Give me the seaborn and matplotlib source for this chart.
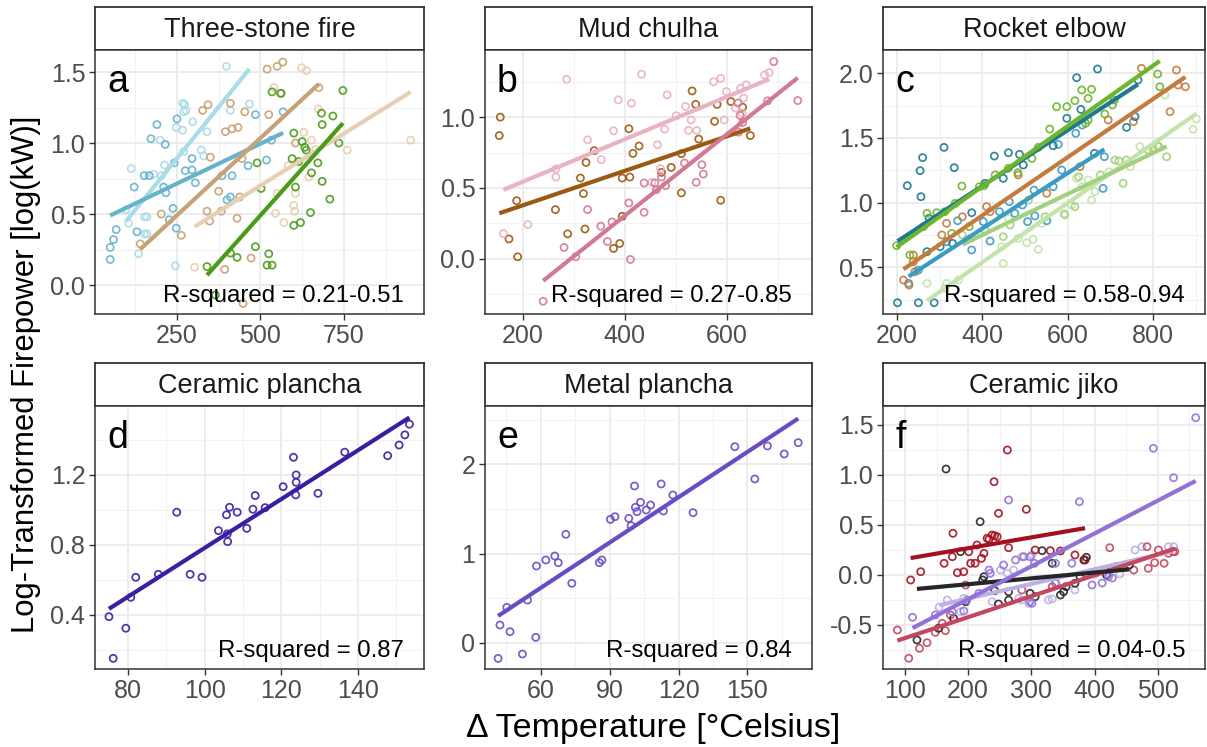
import matplotlib
matplotlib.use("Agg")
import matplotlib.pyplot as plt
from matplotlib.ticker import AutoMinorLocator
import seaborn as sns

sns.set_style("white")
plt.rcParams['font.family'] = ['Liberation Sans', 'DejaVu Sans']

# ---------------- data ----------------
# a: Three-stone fire
a_lightblue_x = [398, 267, 273, 270, 277, 248, 267, 297, 340, 410, 467, 200, 270, 323, 330, 113, 180, 203, 213, 97, 105, 153, 160, 153, 160, 135, 245]
a_lightblue_y = [1.54, 1.28, 1.27, 1.22, 1.23, 1.11, 1.09, 1.15, 1.08, 1.23, 1.275, 1.02, 0.94, 0.95, 0.91, 0.82, 0.78, 0.77, 0.845, 0.53, 0.435, 0.48, 0.48, 0.36, 0.36, 0.22, 0.135]
a_steel_x = [50, 50, 60, 68, 122, 130, 152, 167, 172, 190, 215, 210, 217, 227, 238, 248, 250, 242, 275, 295, 295, 305, 385, 415, 400, 410, 463, 485, 518, 533, 568]
a_steel_y = [0.18, 0.265, 0.32, 0.39, 0.69, 0.375, 0.77, 0.77, 1.03, 1.13, 0.99, 0.69, 0.65, 0.46, 0.54, 0.40, 1.17, 0.86, 0.805, 0.81, 0.89, 0.72, 0.77, 0.77, 0.60, 0.62, 0.84, 1.20, 0.88, 1.02, 1.22]
a_tan_x = [550, 567, 520, 327, 343, 410, 453, 395, 415, 433, 525, 560, 675, 350, 445, 438, 375, 340, 383, 348, 430, 263, 140, 203, 605, 393, 448, 472]
a_tan_y = [1.54, 1.57, 1.52, 1.23, 1.27, 1.28, 1.22, 1.08, 1.10, 1.11, 1.20, 1.35, 1.39, 0.90, 0.89, 0.62, 0.66, 0.52, 0.52, 0.45, 0.47, 0.35, 0.29, 0.50, 1.0, 0.11, -0.13, 0.19]
a_beige_x = [630, 653, 583, 673, 605, 600, 603, 545, 550, 570, 665, 645, 950, 540, 303, 760, 623, 638]
a_beige_y = [1.075, 1.02, 0.84, 1.24, 0.645, 0.56, 0.52, 0.505, 0.645, 0.44, 0.955, 0.76, 1.02, 1.39, 0.125, 0.95, 1.53, 1.51]
a_green_x = [535, 562, 747, 683, 717, 685, 600, 625, 633, 637, 595, 615, 672, 653, 685, 605, 502, 490, 708, 650, 600, 620, 485, 525, 520, 535, 430, 410, 340, 365, 735]
a_green_y = [1.36, 1.35, 1.37, 1.21, 1.19, 1.13, 1.07, 1.01, 0.97, 0.95, 0.89, 0.87, 0.86, 0.79, 0.73, 0.69, 0.68, 0.86, 0.605, 0.51, 0.42, 0.44, 0.27, 0.22, 0.14, 0.14, 0.195, 0.225, 0.13, -0.07, 1.0]

# b: Mud chulha
b_brown_x = [156, 154, 188, 173, 190, 264, 288, 322, 319, 313, 324, 340, 408, 428, 416, 395, 410, 395, 390, 378, 472, 491, 511, 532, 539, 545, 581, 576, 588, 608, 631, 646, 511]
b_brown_y = [1.0, 0.87, 0.41, 0.14, 0.014, 0.347, 0.176, 0.21, 0.46, 0.57, 0.68, 0.763, 0.918, 0.796, 0.744, 0.57, 0.577, 0.30, 0.108, 0.073, 0.61, 0.645, 0.465, 1.185, 1.09, 0.845, 1.09, 0.97, 0.413, 1.11, 1.07, 0.87, 0.742]
b_pink_x = [286, 433, 387, 413, 483, 378, 327, 354, 265, 265, 210, 162, 501, 519, 530, 525, 541, 478, 464, 453, 470, 574, 588, 599, 627, 638, 674, 683, 633, 630, 617, 595]
b_pink_y = [1.267, 1.303, 1.122, 1.098, 1.157, 0.904, 0.84, 0.70, 0.634, 0.577, 0.242, 0.178, 1.01, 1.075, 0.98, 0.906, 0.906, 0.915, 0.805, 0.54, 0.636, 1.25, 1.274, 1.18, 1.204, 1.228, 1.298, 1.314, 1.134, 1.028, 1.063, 0.98]
b_rose_x = [240, 304, 281, 353, 375, 366, 408, 438, 327, 411, 438, 462, 459, 480, 472, 551, 554, 540, 517, 626, 623, 631, 680, 739, 692, 622]
b_rose_y = [-0.30, 0.014, 0.08, 0.23, 0.26, 0.122, 0.394, 0.328, 0.347, -0.005, 0.535, 0.488, 0.535, 0.516, 0.577, 0.664, 0.598, 0.54, 0.676, 1.012, 0.894, 0.962, 1.115, 1.117, 1.392, 1.1]

# c: Rocket elbow
c_teal_x = [201, 250, 287, 224, 260, 254, 256, 310, 334, 275, 270, 301, 330, 375, 406, 428, 449, 461, 487, 496, 566, 598, 621, 631, 670, 663, 738, 758, 765]
c_teal_y = [0.226, 0.226, 0.226, 1.131, 1.348, 1.247, 1.046, 1.427, 1.27, 0.879, 0.621, 0.659, 0.685, 0.922, 1.149, 1.36, 1.188, 1.386, 1.373, 1.291, 1.44, 1.652, 1.966, 1.721, 2.033, 1.381, 1.582, 1.665, 1.948]
c_blue_x = [227, 250, 316, 342, 402, 375, 440, 418, 463, 476, 494, 506, 523, 521, 551, 566, 586, 578, 619, 634, 683, 686]
c_blue_y = [0.376, 0.479, 0.698, 0.86, 0.853, 0.634, 0.93, 0.703, 1.007, 0.917, 0.982, 0.853, 0.897, 1.097, 0.86, 1.123, 1.252, 1.45, 1.536, 1.6, 1.11, 1.355]
c_orange_x = [773, 855, 859, 876, 840, 754, 629, 551, 484, 418, 410, 353, 316, 305, 238, 238, 242, 215, 228, 695]
c_orange_y = [2.038, 2.025, 1.909, 1.896, 1.703, 1.626, 1.278, 1.072, 1.214, 0.93, 0.969, 0.891, 0.84, 0.75, 0.595, 0.543, 0.466, 0.402, 0.363, 1.639]
c_green_x = [574, 598, 617, 633, 656, 648, 687, 705, 709, 642, 648, 811, 816, 558, 531, 516, 461, 483, 393, 404, 352, 336, 270, 293, 312, 328, 369, 262, 199, 230, 430]
c_green_y = [1.742, 1.742, 1.788, 1.871, 1.876, 1.806, 1.685, 1.755, 1.793, 1.613, 1.639, 1.994, 1.896, 1.569, 1.427, 1.342, 1.265, 1.232, 1.123, 1.131, 1.128, 0.994, 0.917, 0.922, 0.93, 0.762, 0.814, 0.814, 0.667, 0.595, 1.214]
c_pale_x = [902, 894, 828, 769, 747, 697, 648, 664, 656, 621, 633, 609, 594, 539, 484, 504, 519, 531, 461, 445, 449, 316, 312, 270, 344]
c_pale_y = [1.646, 1.567, 1.832, 1.433, 1.278, 1.239, 1.175, 1.085, 1.02, 1.188, 1.123, 0.982, 0.904, 0.84, 0.724, 0.69, 0.716, 0.639, 0.878, 0.659, 0.53, 0.376, 0.337, 0.376, 0.402]
c_mid_x = [730, 738, 801, 811, 789, 711, 626, 617, 592, 547, 465, 449, 373, 363, 353, 406, 508, 677, 720, 832, 814]
c_mid_y = [1.149, 1.329, 1.407, 1.44, 1.407, 1.329, 1.2, 0.969, 0.912, 0.891, 0.827, 0.737, 0.724, 0.711, 0.75, 0.788, 1.02, 1.214, 1.322, 1.355, 1.433]

# d: Ceramic plancha
d_x = [75.0, 76.1, 79.4, 80.7, 82.0, 87.9, 92.7, 96.2, 99.3, 103.6, 105.9, 106.0, 105.7, 106.5, 108.5, 111.0, 112.6, 113.2, 115.8, 120.5, 123.2, 123.9, 123.9, 123.8, 129.6, 136.6, 147.8, 150.8, 152.3, 153.5]
d_y = [0.39, 0.152, 0.324, 0.501, 0.615, 0.632, 0.987, 0.632, 0.615, 0.882, 0.863, 0.819, 0.972, 1.015, 0.987, 0.895, 1.004, 1.082, 1.013, 1.133, 1.301, 1.2, 1.158, 1.086, 1.095, 1.33, 1.31, 1.371, 1.429, 1.49]

# e: Metal plancha
e_x = [41.4, 42.2, 46.6, 45.2, 52.0, 54.2, 57.8, 58.1, 62.2, 66.1, 67.6, 70.9, 73.5, 85.5, 86.6, 90.3, 92.3, 98.3, 99.3, 100.8, 101.2, 101.9, 103.4, 105.9, 107.8, 112.4, 113.4, 117.5, 126.3, 144.5, 153.2, 158.7, 166.0, 172.1]
e_y = [-0.176, 0.198, 0.123, 0.396, -0.127, 0.478, 0.06, 0.86, 0.927, 0.972, 0.897, 1.215, 0.666, 0.897, 0.927, 1.383, 1.413, 1.394, 1.312, 1.757, 1.518, 1.469, 1.574, 1.488, 1.544, 1.78, 1.477, 1.656, 1.458, 2.198, 1.836, 2.206, 2.116, 2.243]

# f: Ceramic jiko
f_red_x = [109, 125, 176, 175, 183, 193, 201, 204, 211, 214, 221, 225, 230, 233, 238, 242, 246, 241, 248, 262, 292, 264, 306, 330, 346, 369, 385, 162]
f_red_y = [-0.05, 0.033, 0.417, 0.183, 0.023, 0.033, 0.233, 0.117, 0.117, 0.3, 0.167, 0.217, 0.367, 0.357, 0.4, 0.393, 0.383, 0.933, 0.617, 1.25, 0.657, 0.273, 0.25, 0.243, 0.24, 0.2, 0.15, 0.117]
f_rose_x = [88, 106, 123, 135, 148, 159, 164, 172, 196, 285, 333, 424, 462, 483, 485, 495, 501, 510, 517, 524, 527]
f_rose_y = [-0.55, -0.833, -0.733, -0.677, -0.573, -0.483, -0.557, -0.4, -0.1, -0.15, -0.117, 0.273, 0.05, 0.283, 0.067, 0.123, 0.25, 0.117, 0.217, 0.233, 0.233]
f_black_x = [165, 219, 188, 317, 119, 153, 177, 196, 223, 225, 242, 248, 264, 264, 298, 306, 346, 351, 355, 369, 377, 383, 387, 419, 427, 434, 455, 333]
f_black_y = [1.06, 0.533, 0.233, 0.243, -0.65, -0.533, -0.433, -0.267, -0.05, -0.017, -0.157, -0.29, -0.167, -0.25, -0.183, -0.217, -0.2, -0.167, -0.117, -0.083, -0.017, 0.15, 0.177, 0.0, 0.067, 0.083, 0.1, 0.117]
f_purple_x = [112, 148, 175, 193, 198, 217, 233, 235, 256, 264, 275, 288, 298, 305, 298, 301, 338, 364, 376, 396, 422, 493, 525, 560, 338, 428, 412]
f_purple_y = [-0.423, -0.4, -0.367, -0.36, -0.25, -0.183, 0.05, 0.017, 0.1, 0.75, 0.15, 0.183, 0.183, 0.117, -0.267, -0.283, -0.083, 0.117, 0.733, -0.1, -0.017, 1.267, 0.973, 1.573, 0.117, -0.03, -0.08]
f_lav_x = [154, 167, 188, 193, 238, 251, 262, 272, 280, 285, 296, 327, 333, 339, 369, 401, 422, 440, 464, 475, 517, 525, 285, 301]
f_lav_y = [-0.323, -0.25, -0.367, -0.233, -0.267, 0.05, 0.017, 0.05, -0.233, -0.25, -0.283, -0.25, -0.24, -0.077, -0.15, 0.01, 0.017, 0.01, 0.25, 0.283, 0.283, 0.283, 0.183, 0.2]

titles = ["Three-stone fire", "Mud chulha", "Rocket elbow",
          "Ceramic plancha", "Metal plancha", "Ceramic jiko"]
letters = ["a", "b", "c", "d", "e", "f"]
rsq_labels = ["R-squared = 0.21-0.51", "R-squared = 0.27-0.85", "R-squared = 0.58-0.94",
              "R-squared = 0.87", "R-squared = 0.84", "R-squared = 0.04-0.5"]

panels = [
    dict(groups=[(a_lightblue_x, a_lightblue_y, "#a9dbe8"), (a_steel_x, a_steel_y, "#68b3cc"),
                 (a_tan_x, a_tan_y, "#c9a176"), (a_beige_x, a_beige_y, "#e6d0b3"),
                 (a_green_x, a_green_y, "#4b9b1b")],
         xlim=(4.5, 990), ylim=(-0.204, 1.655),
         xticks=[250, 500, 750], yticks=[0, 0.5, 1.0, 1.5],
         ylabels=["0.0", "0.5", "1.0", "1.5"]),
    dict(groups=[(b_brown_x, b_brown_y, "#9b5a12"), (b_pink_x, b_pink_y, "#e9b3c1"),
                 (b_rose_x, b_rose_y, "#d27a93")],
         xlim=(126, 767), ylim=(-0.39, 1.474),
         xticks=[200, 400, 600], yticks=[0, 0.5, 1.0],
         ylabels=["0.0", "0.5", "1.0"]),
    dict(groups=[(c_pale_x, c_pale_y, "#c4e3aa"), (c_mid_x, c_mid_y, "#a2d07f"),
                 (c_blue_x, c_blue_y, "#3a9cc3"), (c_orange_x, c_orange_y, "#c47b3e"),
                 (c_teal_x, c_teal_y, "#1e7891"), (c_green_x, c_green_y, "#6cb52e")],
         xlim=(167, 922), ylim=(0.139, 2.18),
         xticks=[200, 400, 600, 800], yticks=[0.5, 1.0, 1.5, 2.0],
         ylabels=["0.5", "1.0", "1.5", "2.0"]),
    dict(groups=[(d_x, d_y, "#3b1d9f")],
         xlim=(71.35, 157.3), ylim=(0.091, 1.594),
         xticks=[80, 100, 120, 140], yticks=[0.4, 0.8, 1.2],
         ylabels=["0.4", "0.8", "1.2"]),
    dict(groups=[(e_x, e_y, "#6a4bc6")],
         xlim=(35.7, 178.1), ylim=(-0.295, 2.654),
         xticks=[60, 90, 120, 150], yticks=[0, 1, 2],
         ylabels=["0", "1", "2"]),
    dict(groups=[(f_lav_x, f_lav_y, "#bdb0e6"), (f_rose_x, f_rose_y, "#c4475f"),
                 (f_black_x, f_black_y, "#262626"), (f_red_x, f_red_y, "#a3111f"),
                 (f_purple_x, f_purple_y, "#9272d6")],
         xlim=(65.3, 574.7), ylim=(-0.94, 1.69),
         xticks=[100, 200, 300, 400, 500], yticks=[-0.5, 0.0, 0.5, 1.0, 1.5],
         ylabels=["-0.5", "0.0", "0.5", "1.0", "1.5"]),
]

# ---------------- layout (pixels) ----------------
W, H = 1207, 747
fig = plt.figure(figsize=(W / 100, H / 100), dpi=100)


def box(l, t, r, b):
    return [l / W, 1 - b / H, (r - l) / W, (b - t) / H]


cols = [(95, 424), (485, 812), (883, 1205)]
rows = [(7, 50, 314), (363, 406, 669)]

for i, spec in enumerate(panels):
    r, c = divmod(i, 3)
    l, rr = cols[c]
    st, pt, pb = rows[r]

    # strip header
    sax = fig.add_axes(box(l, st, rr, pt))
    sax.set_xticks([])
    sax.set_yticks([])
    sax.set_facecolor("white")
    for sp in sax.spines.values():
        sp.set_color("#333333")
        sp.set_linewidth(1.3)
    sax.text(0.5, 0.47, titles[i], ha="center", va="center", fontsize=19.5,
             color="#1a1a1a", transform=sax.transAxes)

    ax = fig.add_axes(box(l, pt, rr, pb))
    ax.set_facecolor("white")
    ax.set_axisbelow(True)
    for gx, gy, col in spec["groups"]:
        sns.regplot(x=gx, y=gy, ax=ax, ci=None, truncate=True, color=col,
                    scatter_kws=dict(facecolors="none", s=26, linewidths=1.25,
                                     alpha=0.9, zorder=2),
                    line_kws=dict(lw=3.0, zorder=3, solid_capstyle="butt"))

    ax.set_xlim(*spec["xlim"])
    ax.set_ylim(*spec["ylim"])
    ax.set_xticks(spec["xticks"])
    ax.set_xticklabels([str(v) for v in spec["xticks"]])
    ax.set_yticks(spec["yticks"])
    ax.set_yticklabels(spec["ylabels"])
    ax.xaxis.set_minor_locator(AutoMinorLocator(2))
    ax.yaxis.set_minor_locator(AutoMinorLocator(2))
    ax.grid(which="major", color="#ebebeb", lw=1.3)
    ax.grid(which="minor", color="#f2f2f2", lw=0.8)
    ax.tick_params(which="major", length=4, width=1.0, color="#333333",
                   labelsize=18, labelcolor="#4d4d4d", pad=3,
                   bottom=True, left=True)
    ax.tick_params(which="minor", length=0)
    for sp in ax.spines.values():
        sp.set_color("#333333")
        sp.set_linewidth(1.1)
    ax.set_xlabel("")
    ax.set_ylabel("")

    ax.text(12 / (rr - l), 1 - 14 / (pb - pt), letters[i], transform=ax.transAxes,
            ha="left", va="top", fontsize=27, color="black")
    ax.text(1 - 20 / (rr - l), 18 / (pb - pt), rsq_labels[i], transform=ax.transAxes,
            ha="right", va="center", fontsize=17.3, color="black", zorder=5)

fig.text(26 / W, 1 - 374 / H, "Log-Transformed Firepower [log(kW)]", rotation=90,
         ha="center", va="center", fontsize=22.4, color="black")
fig.text(653 / W, 1 - 728 / H, "\u0394 Temperature [\u00b0Celsius]",
         ha="center", va="center", fontsize=24.5, color="black")

fig.savefig("out.png", dpi=100, facecolor="white")
